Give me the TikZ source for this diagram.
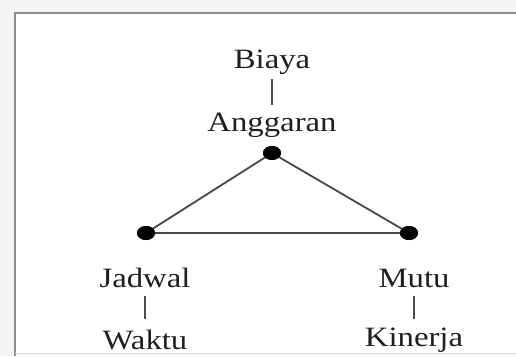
\documentclass[tikz,border=0pt]{standalone}
\usepackage{fontspec}
\setmainfont{Liberation Serif}
\usetikzlibrary{shapes.geometric}
\newcommand{\widetxt}[1]{\scalebox{1.17}[1]{#1}}
\begin{document}
\begin{tikzpicture}[x=1pt,y=-1pt,
  lbl/.style={font=\fontsize{28}{30}\selectfont, text=black!88, inner sep=0pt, anchor=center},
  dot/.style={ellipse, fill=black, minimum width=18pt, minimum height=14pt, inner sep=0pt},
  tie/.style={draw=black!70, line width=1.3pt},
  edge/.style={draw=black!72, line width=1.8pt}]
\useasboundingbox (0,0) rectangle (516,356);
\fill[black!4] (0,0) rectangle (516,356);
\fill[white] (15,13) rectangle (516,353);
\draw[black!45, line width=1.5pt] (15,356) -- (15,13) -- (516,13);
\draw[black!15, line width=1pt] (15,353.5) -- (516,353.5);
\node[lbl] (biaya) at (272,62) {\widetxt{Biaya}};
\node[lbl] (angg) at (272,125) {\widetxt{Anggaran}};
\node[lbl] (jadwal) at (145,278) {\widetxt{Jadwal}};
\node[lbl] (waktu) at (145,340) {\widetxt{Waktu}};
\node[lbl] (mutu) at (414,278) {\widetxt{Mutu}};
\node[lbl] (kinerja) at (414,340) {\widetxt{Kinerja}};
\draw[tie] (biaya.center) ++(0,17) -- ++(0,26);
\draw[tie] (jadwal.center) ++(0,18) -- ++(0,23);
\draw[tie] (mutu.center) ++(0,18) -- ++(0,23);
\node[dot] (top) at (272,153) {};
\node[dot] (left) at (146,233) {};
\node[dot] (right) at (409,233) {};
\draw[edge] (top.center) -- (left.center) -- (right.center) -- cycle;
\node[dot] at (top) {};
\node[dot] at (left) {};
\node[dot] at (right) {};
\end{tikzpicture}
\end{document}
